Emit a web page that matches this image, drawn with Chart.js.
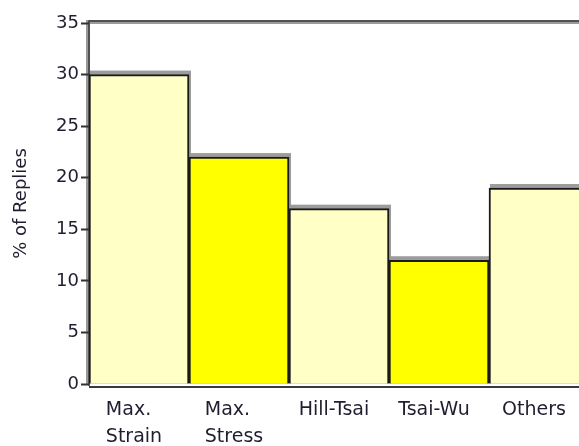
<!DOCTYPE html>
<html>
<head>
<meta charset="utf-8">
<script src="https://cdn.jsdelivr.net/npm/chart.js@4/dist/chart.umd.min.js"></script>
<style>
  html, body { margin: 0; padding: 0; background: #fff; overflow: hidden; }
  #wrap { width: 579px; height: 446px; overflow: hidden; }
  #wrap div { width: 600px; height: 446px; }
</style>
</head>
<body>
<div id="wrap"><div><canvas id="c" width="600" height="446"></canvas></div></div>
<script>
// Failure criteria used, share of replies
const categories = [["Max.", "Strain"], ["Max.", "Stress"], "Hill-Tsai", "Tsai-Wu", "Others"];
const replies = [30, 22, 17, 12, 19];
const yTicks = [0, 5, 10, 15, 20, 25, 30, 35];
const barColors = ["#FFFFC6", "#FFFF00", "#FFFFC6", "#FFFF00", "#FFFFC6"];

const textColor = "#1e1e30";
const fontFamily = "'DejaVu Sans', 'Open Sans', sans-serif";
const labelFont = "19px " + fontFamily;
const labelLineHeight = 27;

// gray shadow behind each bar, framed plot area, and category labels
// whose lines share a common left edge
const framePlugin = {
  id: "frameAndLabels",
  beforeDatasetsDraw(chart) {
    const ctx = chart.ctx;
    const meta = chart.getDatasetMeta(0);
    ctx.save();
    ctx.fillStyle = "#9c9c9c";
    meta.data.forEach(el => {
      const { x, y, base, width } = el.getProps(["x", "y", "base", "width"], true);
      ctx.fillRect(x - width / 2 + 1, y - 4, width + 1, base - y + 4);
    });
    ctx.restore();
  },
  beforeDraw(chart) {
    const { ctx, chartArea: a } = chart;
    ctx.save();
    ctx.strokeStyle = "#9a9a9a";
    ctx.lineWidth = 4;
    ctx.beginPath();
    ctx.moveTo(a.left - 1, a.bottom + 1);
    ctx.lineTo(a.left - 1, a.top - 1);
    ctx.lineTo(a.right + 5, a.top - 1);
    ctx.stroke();
    ctx.strokeStyle = "#3a3a3a";
    ctx.lineWidth = 1.5;
    ctx.beginPath();
    ctx.moveTo(a.left, a.bottom + 2);
    ctx.lineTo(a.left, a.top - 2);
    ctx.lineTo(a.right + 5, a.top - 2);
    ctx.stroke();
    ctx.restore();
  },
  afterDraw(chart) {
    const { ctx, chartArea: a } = chart;
    const xs = chart.scales.x;
    ctx.save();
    ctx.strokeStyle = "#3a3a3a";
    ctx.lineWidth = 2;
    ctx.beginPath();
    ctx.moveTo(a.left, a.bottom + 3);
    ctx.lineTo(a.right + 5, a.bottom + 3);
    ctx.stroke();

    ctx.font = labelFont;
    ctx.fillStyle = textColor;
    ctx.textAlign = "left";
    ctx.textBaseline = "middle";
    chart.data.labels.forEach((lab, i) => {
      const lines = Array.isArray(lab) ? lab : [lab];
      const w = Math.max(...lines.map(t => ctx.measureText(t).width));
      const left = xs.getPixelForValue(i) - w / 2 - 5;
      lines.forEach((t, k) => {
        ctx.fillText(t, left, a.bottom + 26 + k * labelLineHeight);
      });
    });
    ctx.restore();
  }
};

new Chart(document.getElementById("c"), {
  type: "bar",
  data: {
    labels: categories,
    datasets: [{
      data: replies,
      backgroundColor: barColors,
      borderColor: "#1a1a1a",
      borderWidth: 2,
      borderSkipped: "bottom",
      categoryPercentage: 1,
      barPercentage: 1
    }]
  },
  options: {
    responsive: false,
    animation: false,
    layout: { padding: { top: 23, right: 11, left: 0, bottom: 0 } },
    plugins: { legend: { display: false }, tooltip: { enabled: false } },
    scales: {
      x: {
        grid: { display: false, drawTicks: false },
        border: { display: false },
        ticks: { display: false },
        afterFit(scale) { scale.height = 62; }
      },
      y: {
        min: 0,
        max: 35,
        afterBuildTicks(scale) { scale.ticks = yTicks.map(v => ({ value: v })); },
        grid: { drawOnChartArea: false, drawTicks: true, tickLength: 8, tickWidth: 2, tickColor: "#333" },
        border: { display: false },
        ticks: {
          color: textColor,
          font: { family: fontFamily, size: 18 },
          padding: 2
        },
        title: {
          display: true,
          text: "% of Replies",
          color: textColor,
          font: { family: fontFamily, size: 18 },
          padding: { top: 11, bottom: 0 }
        },
        afterFit(scale) { scale.width = 89; }
      }
    }
  },
  plugins: [framePlugin]
});
</script>
</body>
</html>
